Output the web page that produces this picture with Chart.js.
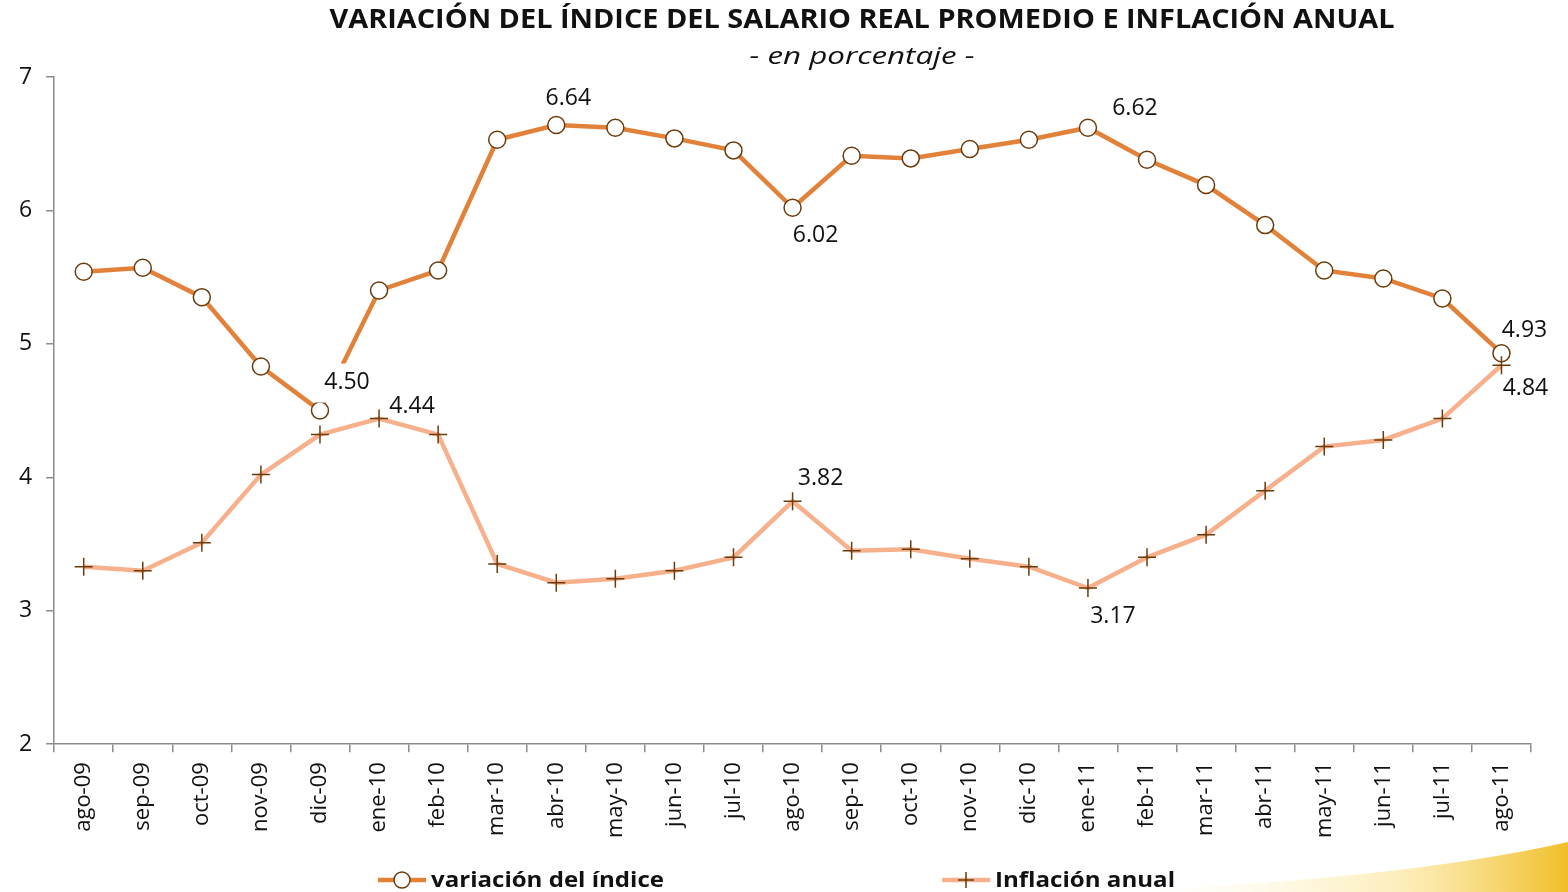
<!DOCTYPE html>
<html>
<head>
<meta charset="utf-8">
<script src="https://cdn.jsdelivr.net/npm/chart.js@4"></script>
<style>
  html, body { margin: 0; padding: 0; background: #fff; }
  #wrap { width: 1568px; height: 892px; position: relative; }
</style>
</head>
<body>
<div id="wrap"><canvas id="myChart"></canvas></div>
<script>
const meses = ['ago-09', 'sep-09', 'oct-09', 'nov-09', 'dic-09', 'ene-10', 'feb-10', 'mar-10', 'abr-10',
    'may-10', 'jun-10', 'jul-10', 'ago-10', 'sep-10', 'oct-10', 'nov-10', 'dic-10', 'ene-11', 'feb-11',
    'mar-11', 'abr-11', 'may-11', 'jun-11', 'jul-11', 'ago-11'];

const variacionIndice = [5.54, 5.57, 5.35, 4.83, 4.50, 5.40, 5.55, 6.53, 6.64, 6.62, 6.54, 6.45, 6.02,
    6.41, 6.39, 6.46, 6.53, 6.62, 6.38, 6.19, 5.89, 5.55, 5.49, 5.34, 4.93];

const inflacionAnual = [3.33, 3.30, 3.51, 4.02, 4.32, 4.44, 4.32, 3.35, 3.21, 3.24, 3.30, 3.40, 3.82,
    3.45, 3.46, 3.39, 3.33, 3.17, 3.40, 3.57, 3.90, 4.23, 4.28, 4.44, 4.84];

const yTicks = [2, 3, 4, 5, 6, 7];

// etiquetas visibles: [serie, indice mes, dx, dy, fondo blanco]
const etiquetas = [
    [0, 4, 27, -28, true],
    [0, 8, 12, -27, false],
    [0, 12, 23, 28, false],
    [0, 17, 47, -19, false],
    [0, 24, 23, -23, false],
    [1, 5, 33, -12, false],
    [1, 12, 28, -23, false],
    [1, 17, 25, 28, false],
    [1, 24, 24, 23, false],
];

const FONT = '"Open Sans", "Liberation Sans", sans-serif';
const naranja = '#E2823A';
const salmon = '#F7B08C';
const marron = '#6A3B0C';

// texto estirado a un ancho dado (la fuente original es más ancha)
function textoAncho(ctx, t, cx, cy, ancho) {
    const w = ctx.measureText(t).width;
    ctx.save();
    ctx.translate(cx, cy);
    ctx.scale(ancho / w, 1);
    ctx.fillText(t, 0, 0);
    ctx.restore();
}

const etiquetasPlugin = {
    id: 'etiquetas',
    afterDatasetsDraw(chart) {
        const ctx = chart.ctx;
        const x = chart.scales.x, y = chart.scales.y;
        ctx.save();
        ctx.font = '23px ' + FONT;
        ctx.textAlign = 'center';
        ctx.textBaseline = 'middle';
        etiquetas.forEach(([s, i, dx, dy, bg]) => {
            const v = chart.data.datasets[s].data[i];
            const px = x.getPixelForValue(i) + dx;
            const py = y.getPixelForValue(v) + dy;
            const t = v.toFixed(2);
            if (bg) {
                const w = ctx.measureText(t).width + 16;
                ctx.fillStyle = '#fff';
                ctx.fillRect(px - w / 2, py - 19, w, 39);
            }
            ctx.fillStyle = '#111';
            ctx.fillText(t, px, py);
        });
        ctx.restore();
    }
};

const decoPlugin = {
    id: 'deco',
    beforeDraw(chart) {
        const ctx = chart.ctx;
        ctx.save();
        const g = ctx.createLinearGradient(1150, 0, 1568, 0);
        g.addColorStop(0, 'rgba(253,240,190,0)');
        g.addColorStop(0.6, 'rgba(250,220,120,0.5)');
        g.addColorStop(1, 'rgba(240,190,40,1)');
        ctx.fillStyle = g;
        ctx.beginPath();
        ctx.moveTo(1100, 892);
        ctx.quadraticCurveTo(1400, 880, 1568, 842);
        ctx.lineTo(1568, 892);
        ctx.closePath();
        ctx.fill();
        ctx.restore();
    },
    afterDraw(chart) {
        const ctx = chart.ctx;
        ctx.save();
        ctx.fillStyle = '#111';
        ctx.textAlign = 'center';
        ctx.textBaseline = 'middle';
        ctx.font = 'bold 26px ' + FONT;
        textoAncho(ctx, 'VARIACIÓN DEL ÍNDICE DEL SALARIO REAL PROMEDIO E INFLACIÓN ANUAL', 862, 21, 1065);
        ctx.font = 'italic 23px ' + FONT;
        textoAncho(ctx, '- en porcentaje -', 862, 57, 225);

        // leyenda
        ctx.textAlign = 'left';
        ctx.font = 'bold 22px ' + FONT;
        ctx.lineWidth = 4.5;
        ctx.strokeStyle = naranja;
        ctx.beginPath(); ctx.moveTo(378, 880); ctx.lineTo(426, 880); ctx.stroke();
        ctx.beginPath(); ctx.arc(402, 880, 8, 0, Math.PI * 2);
        ctx.fillStyle = '#fff'; ctx.fill();
        ctx.lineWidth = 1.5; ctx.strokeStyle = marron; ctx.stroke();
        ctx.fillStyle = '#111';
        textoAncho(ctx, 'variación del índice', 431, 881, 233);

        ctx.lineWidth = 4.5;
        ctx.strokeStyle = salmon;
        ctx.beginPath(); ctx.moveTo(942, 880); ctx.lineTo(990, 880); ctx.stroke();
        ctx.lineWidth = 1.5; ctx.strokeStyle = marron;
        ctx.beginPath(); ctx.moveTo(958, 880); ctx.lineTo(974, 880);
        ctx.moveTo(966, 872); ctx.lineTo(966, 888); ctx.stroke();
        textoAncho(ctx, 'Inflación anual', 995, 881, 180);
        ctx.restore();
    }
};

const data = {
    labels: meses,
    datasets: [
        {
            label: 'variación del índice',
            data: variacionIndice,
            borderColor: naranja,
            borderWidth: 4.5,
            pointStyle: 'circle',
            pointRadius: 8.5,
            pointBackgroundColor: '#fff',
            pointBorderColor: marron,
            pointBorderWidth: 1.5,
            tension: 0,
            order: 2,
        },
        {
            label: 'Inflación anual',
            data: inflacionAnual,
            borderColor: salmon,
            borderWidth: 4.5,
            pointStyle: 'cross',
            pointRadius: 9,
            pointBackgroundColor: marron,
            pointBorderColor: marron,
            pointBorderWidth: 1.5,
            tension: 0,
            order: 1,
        },
    ],
};

const config = {
    type: 'line',
    data: data,
    options: {
        responsive: true,
        maintainAspectRatio: false,
        animation: false,
        layout: { padding: { top: 77, right: 37, bottom: 44, left: 5 } },
        plugins: {
            legend: { display: false },
            tooltip: { enabled: false },
        },
        scales: {
            x: {
                offset: true,
                grid: { drawOnChartArea: false, offset: true, tickLength: 8, color: '#8c8c8c', lineWidth: 1.5 },
                border: { color: '#8c8c8c', width: 1.5 },
                ticks: { color: '#111', font: { family: FONT, size: 22 }, maxRotation: 90, minRotation: 90, autoSkip: false, padding: 10 },
            },
            y: {
                min: 2,
                max: 7,
                afterBuildTicks(axis) { axis.ticks = yTicks.map(v => ({ value: v })); },
                grid: { drawOnChartArea: false, tickLength: 8, color: '#8c8c8c', lineWidth: 1.5 },
                border: { color: '#8c8c8c', width: 1.5 },
                ticks: { color: '#111', font: { family: FONT, size: 23 }, padding: 14 },
            },
        },
    },
    plugins: [decoPlugin, etiquetasPlugin],
};

var ctx = document.getElementById('myChart').getContext('2d');
var myChart = new Chart(ctx, config);
</script>
</body>
</html>
